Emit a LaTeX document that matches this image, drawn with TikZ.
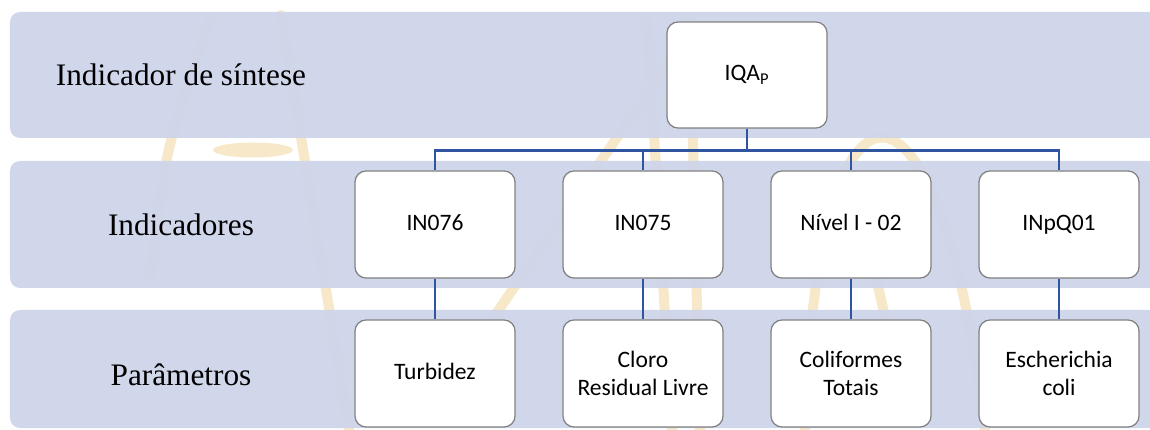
\documentclass[tikz,border=0pt]{standalone}
\usepackage{fontspec}
\setmainfont{Liberation Serif}
\newfontfamily\cardfont{Carlito}
\usetikzlibrary{positioning}
\definecolor{bandblue}{RGB}{207, 213, 234}
\definecolor{linkblue}{RGB}{47, 85, 160}
\definecolor{cardgray}{RGB}{128, 128, 128}
\definecolor{wmark}{RGB}{246, 232, 200}

\begin{document}
\begin{tikzpicture}[
    band/.style={fill=bandblue, fill opacity=0.96, rounded corners=0.2cm},
    lbl/.style={font=\fontsize{17.8}{20}\selectfont},
    card/.style={draw=cardgray, line width=0.7pt, fill=white, rounded corners=0.22cm,
      minimum width=3.2cm, minimum height=2.14cm, align=center,
      font=\cardfont\fontsize{13.4}{16}\selectfont},
    single/.style={card, execute at begin node=\strut},
    link/.style={draw=linkblue, line width=1.5pt},
    wm/.style={draw=wmark, line width=0.2cm, line cap=round}
  ]
    \useasboundingbox (0,0) rectangle (23,8.6);
    \clip (0,0) rectangle (23,8.6);
    % watermark
    \draw[wm] (6.98,0) -- (5.62,8.3);
    \draw[wm] (3.0,3.0) .. controls (3.3,5.6) .. (4.2,8.2);
    \fill[wmark] (5.06,5.6) ellipse (0.8 and 0.15);
    \draw[wm] (8.6,0.4) -- (13.68,7.8);
    \draw[wm] (13.44,0) -- (12.94,8.2);
    \draw[wm] (14.0,0) -- (13.8,8.2);
    \draw[wm] (16.1,0) .. controls (16.3,7.8) and (18.8,7.8) .. (19.7,0);
    \draw[wm] (17.2,4.4) -- (18.0,1.0);
    % bands
    \fill[band] (0.2,5.84) rectangle (23.5,8.36);
    \fill[band] (0.2,2.84) rectangle (23.5,5.38);
    \fill[band] (0.2,0.04) rectangle (23.5,2.4);
    % row labels
    \node[lbl] (lsint) at (3.62,7.1) {Indicador de síntese};
    \node[lbl] (lind) at (3.62,4.11) {Indicadores};
    \node[lbl] (lpar) at (3.62,1.1) {Parâmetros};
    % top
    \node[single, minimum height=2.12cm] (iqa) at (14.94,7.1) {IQA\textsubscript{P}};
    % indicators
    \node[single] (in076) at (8.7,4.11) {IN076};
    \node[single] (in075) at (12.86,4.11) {IN075};
    \node[single] (niv02) at (17.02,4.11) {Nível I - 02};
    \node[single] (inpq01) at (21.18,4.11) {INpQ01};
    % parameters
    \node[single] (turb) at (8.7,1.13) {Turbidez};
    \node[card] (cloro) at (12.86,1.13) {Cloro\\Residual Livre};
    \node[card] (colif) at (17.02,1.13) {Coliformes\\Totais};
    \node[card] (ecoli) at (21.18,1.13) {Escherichia\\coli};
    % links
    \draw[link] (iqa.south) -- ++(0,-0.44) -| (in076.north);
    \draw[link] (iqa.south) -- ++(0,-0.44) -| (in075.north);
    \draw[link] (iqa.south) -- ++(0,-0.44) -| (niv02.north);
    \draw[link] (iqa.south) -- ++(0,-0.44) -| (inpq01.north);
    \draw[link] (in076) -- (turb);
    \draw[link] (in075) -- (cloro);
    \draw[link] (niv02) -- (colif);
    \draw[link] (inpq01) -- (ecoli);
  \end{tikzpicture}
\end{document}
